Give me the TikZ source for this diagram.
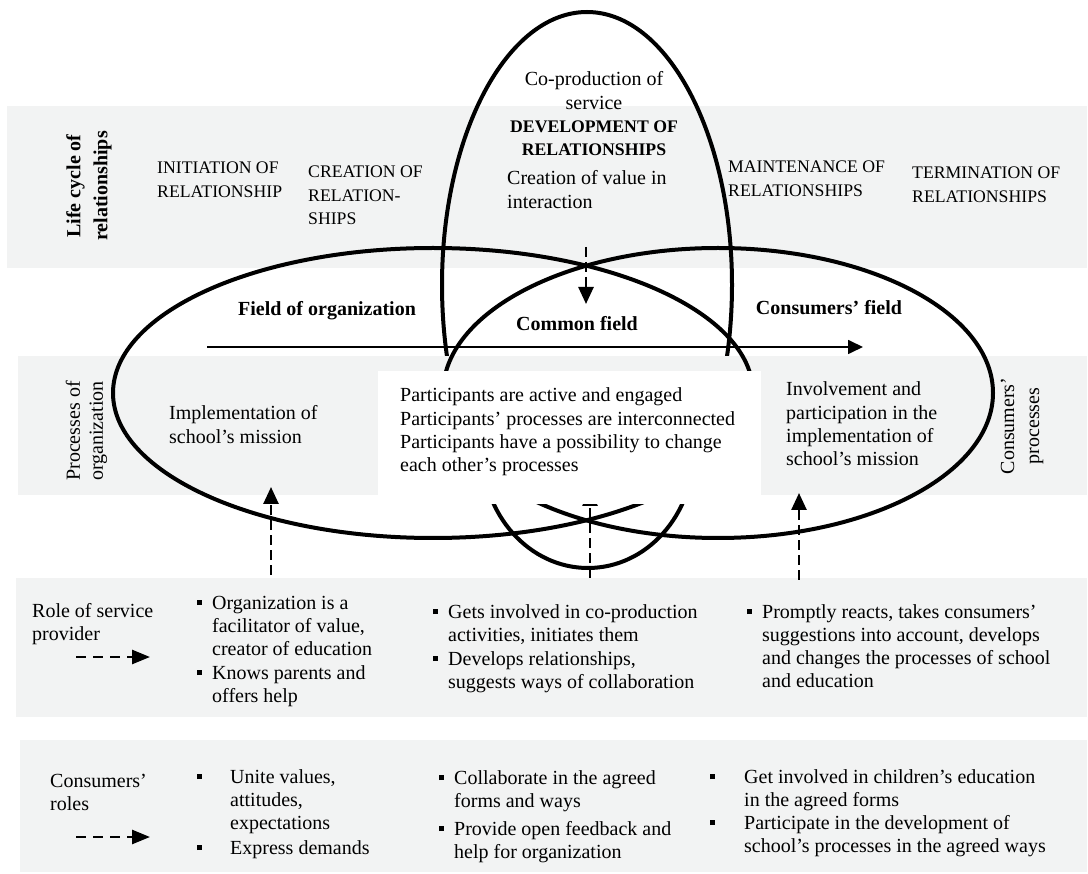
\documentclass[tikz,border=0pt]{standalone}
\usepackage{fontspec}
\setmainfont{Liberation Serif}
\usetikzlibrary{arrows.meta}
\definecolor{bandgray}{RGB}{242,243,243}
\newcommand{\sqb}{\raisebox{4pt}{\rule{5pt}{5pt}}}
\begin{document}
\begin{tikzpicture}[x=1pt,y=-1pt,
  body/.style={font=\fontsize{20}{23.3}\selectfont, inner sep=0pt, align=left, anchor=base west},
  caps/.style={font=\fontsize{17.7}{23.5}\selectfont, inner sep=0pt, align=left, anchor=base west},
  bhead/.style={font=\bfseries\fontsize{20}{24}\selectfont, inner sep=0pt, anchor=base},
  ell/.style={line width=4pt},
  band/.style={fill=bandgray, draw=none},
  dasharr/.style={line width=2.6pt, dash pattern=on 10pt off 5pt, -{Triangle[length=17pt,width=15pt]}},
  smallarr/.style={line width=2.6pt, dash pattern=on 10pt off 7pt, -{Triangle[length=18pt,width=14pt]}},
  solidarr/.style={line width=1.7pt, -{Triangle[length=15pt,width=14pt]}}
]
\useasboundingbox (0,0) rectangle (1088,874);
% grey bands
\fill[band] (7,106) rectangle (1087,268);
\fill[band] (18,356) rectangle (1087,495);
\fill[band] (16,578) rectangle (1087,717);
\fill[band] (20,740) rectangle (1087,872);
% ellipses
\draw[ell] (433,393) ellipse [x radius=320pt, y radius=145pt];
\draw[ell] (718,393) ellipse [x radius=275pt, y radius=145pt];
\begin{scope}
  \clip (0,0) rectangle (1088,356);
  \draw[ell] (587,285) ellipse [x radius=145pt, y radius=273pt];
\end{scope}
\begin{scope}
  \clip (0,504) rectangle (1088,874);
  \draw[ell] (588,450) ellipse [x radius=106pt, y radius=118pt];
\end{scope}
% arrows
\coordinate (hs) at (207,347);
\coordinate (he) at (863,347);
\draw[solidarr] (hs) -- (he);
\coordinate (ts) at (586,247);
\coordinate (te) at (586,304);
\draw[dasharr] (ts) -- (te);
\coordinate (l1) at (271,575);
\coordinate (l2) at (271,487);
\draw[dasharr] (l1) -- (l2);
\coordinate (m1) at (590,578);
\coordinate (m2) at (590,489);
\draw[dasharr] (m1) -- (m2);
\coordinate (r1) at (799,580);
\coordinate (r2) at (799,493);
\draw[dasharr] (r1) -- (r2);
\coordinate (a1) at (76,657);
\coordinate (a2) at (150,657);
\draw[smallarr] (a1) -- (a2);
\coordinate (b1) at (76,837);
\coordinate (b2) at (150,837);
\draw[smallarr] (b1) -- (b2);
% white box
\fill[white] (378,371) rectangle (761,504);
% life cycle band
\node[inner sep=0pt, rotate=90, align=center, font=\bfseries\fontsize{20}{27}\selectfont] (lc) at (89,186) {Life cycle of\\relationships};
\node[caps] (init) at (157,197.5) {INITIATION OF\\RELATIONSHIP};
\node[caps] (crea) at (308,225) {CREATION OF\\RELATION-\\SHIPS};
\node[body, align=center, anchor=base] (cop) at (594,109.3) {Co-production of\\service};
\node[caps, align=center, anchor=base, font=\bfseries\fontsize{17.7}{23}\selectfont] (dev) at (594,156) {DEVELOPMENT OF\\RELATIONSHIPS};
\node[body] (cval) at (507,208.3) {Creation of value in\\interaction};
\node[caps] (main) at (728,196.5) {MAINTENANCE OF\\RELATIONSHIPS};
\node[caps] (term) at (912,202.5) {TERMINATION OF\\RELATIONSHIPS};
% fields
\node[bhead] (forg) at (327,316) {Field of organization};
\node[bhead] (fcom) at (577,331) {Common field};
\node[bhead] (fcon) at (829,315) {Consumers’ field};
% processes band
\node[inner sep=0pt, rotate=90, align=center, font=\fontsize{20}{23}\selectfont] (porg) at (86.5,431) {Processes of\\organization};
\node[body] (impl) at (169,443.3) {Implementation of\\school’s mission};
\node[body] (part) at (400,471.9) {Participants are active and engaged\\Participants’ processes are interconnected\\Participants have a possibility to change\\each other’s processes};
\node[body] (invo) at (786,465.9) {Involvement and\\participation in the\\implementation of\\school’s mission};
\node[inner sep=0pt, rotate=90, align=center, font=\fontsize{20}{25}\selectfont] (pcon) at (1022,426) {Consumers’\\processes};
% role of service provider
\node[body] (rsp) at (32,640.3) {Role of service\\provider};
\node[body] (rs1) at (212,655.6) {\llap{\sqb\hspace{10.5pt}}Organization is a\\facilitator of value,\\creator of education};
\node[body] (rs2) at (212,702.3) {\llap{\sqb\hspace{10.5pt}}Knows parents and\\offers help};
\node[body] (rs3) at (448,641.3) {\llap{\sqb\hspace{10.5pt}}Gets involved in co-production\\activities, initiates them};
\node[body] (rs4) at (448,688.3) {\llap{\sqb\hspace{10.5pt}}Develops relationships,\\suggests ways of collaboration};
\node[body] (rs5) at (762,687.9) {\llap{\sqb\hspace{10.5pt}}Promptly reacts, takes consumers’\\suggestions into account, develops\\and changes the processes of school\\and education};
% consumers' roles
\node[body] (cr) at (50,810.3) {Consumers’\\roles};
\node[body] (cr1) at (230,829.6) {\llap{\sqb\hspace{28.5pt}}Unite values,\\attitudes,\\expectations};
\node[body] (cr2) at (230,854) {\llap{\sqb\hspace{28.5pt}}Express demands};
\node[body] (cr3) at (454,807.3) {\llap{\sqb\hspace{10.5pt}}Collaborate in the agreed\\forms and ways};
\node[body] (cr4) at (454,858.3) {\llap{\sqb\hspace{10.5pt}}Provide open feedback and\\help for organization};
\node[body] (cr5) at (744,806.3) {\llap{\sqb\hspace{29.5pt}}Get involved in children’s education\\in the agreed forms};
\node[body] (cr6) at (744,852.3) {\llap{\sqb\hspace{29.5pt}}Participate in the development of\\school’s processes in the agreed ways};
\end{tikzpicture}
\end{document}
